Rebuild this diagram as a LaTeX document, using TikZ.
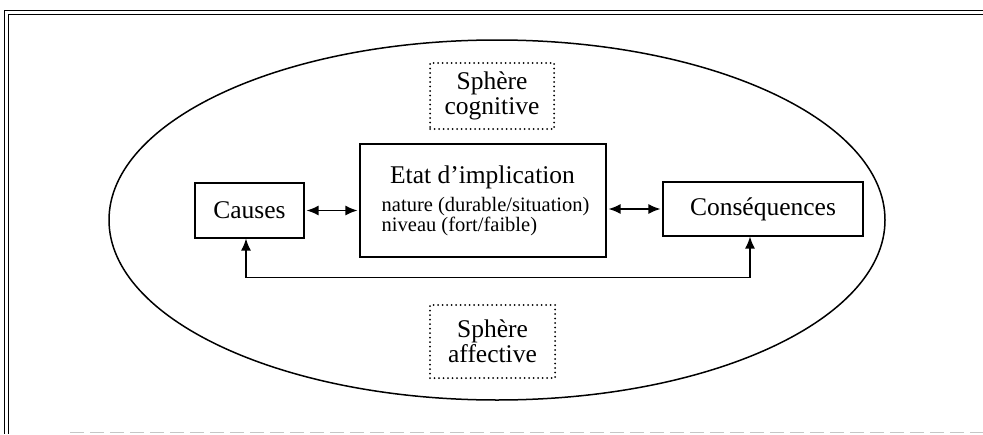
\documentclass[tikz,border=0pt]{standalone}
\usepackage{fontspec}
\setmainfont{Liberation Serif}
\usetikzlibrary{arrows.meta}
\begin{document}
\begin{tikzpicture}[x=1pt,y=-1pt,
  box/.style={draw,line width=1.2pt,inner sep=0pt,font=\fontsize{25.5}{26}\selectfont},
  dotbox/.style={draw,line width=2pt,line cap=round,dash pattern=on 0pt off 4.5pt,inner sep=0pt,align=center,font=\fontsize{25.5}{25}\selectfont},
  small/.style={inner sep=0pt,anchor=base west,font=\fontsize{20.5}{21}\selectfont},
  conn/.style={line width=1.3pt,{Latex[length=12pt,width=10pt]}-{Latex[length=12pt,width=10pt]}}]
\useasboundingbox (0,0) rectangle (983,434);
% frame
\draw[line width=1pt] (983,10.5) -- (4.5,10.5) -- (4.5,434);
\draw[line width=1pt] (983,14.5) -- (8,14.5) -- (8,434);
\draw[gray!45,line width=1pt,dash pattern=on 14pt off 6pt] (70,432.5) -- (983,432.5);
% ellipse
\draw[line width=1.5pt] (497,220) ellipse [x radius=388, y radius=180];
% nodes
\node[box,minimum width=109pt,minimum height=55pt] (causes) at (249.5,210.5) {Causes};
\node[box,minimum width=246pt,minimum height=113pt] (etat) at (483,200.5) {};
\node[box,minimum width=200pt,minimum height=54pt] (cons) at (763,209) {Conséquences};
\node[inner sep=0pt,anchor=base,font=\fontsize{25.5}{26}\selectfont] (title) at (482.5,183) {Etat d’implication};
\node[small] (nat) at (381.5,211) {nature (durable/situation)};
\node[small] (niv) at (381.5,231) {niveau (fort/faible)};
\node[dotbox,minimum width=124pt,minimum height=66pt] (cog) at (492,96) {Sphère\\cognitive};
\node[dotbox,minimum width=125pt,minimum height=73pt] (aff) at (492.5,341.5) {Sphère\\affective};
% connectors
\draw[conn,shorten <=2pt,shorten >=2pt] (causes.east) -- (causes.east -| etat.west);
\draw[conn,shorten <=2pt,shorten >=2pt] (etat.east |- cons.west) -- (cons.west);
\draw[conn] ([xshift=-3.5pt]causes.south) -- ++(0,39) -| ([xshift=-13pt]cons.south);
\end{tikzpicture}
\end{document}
